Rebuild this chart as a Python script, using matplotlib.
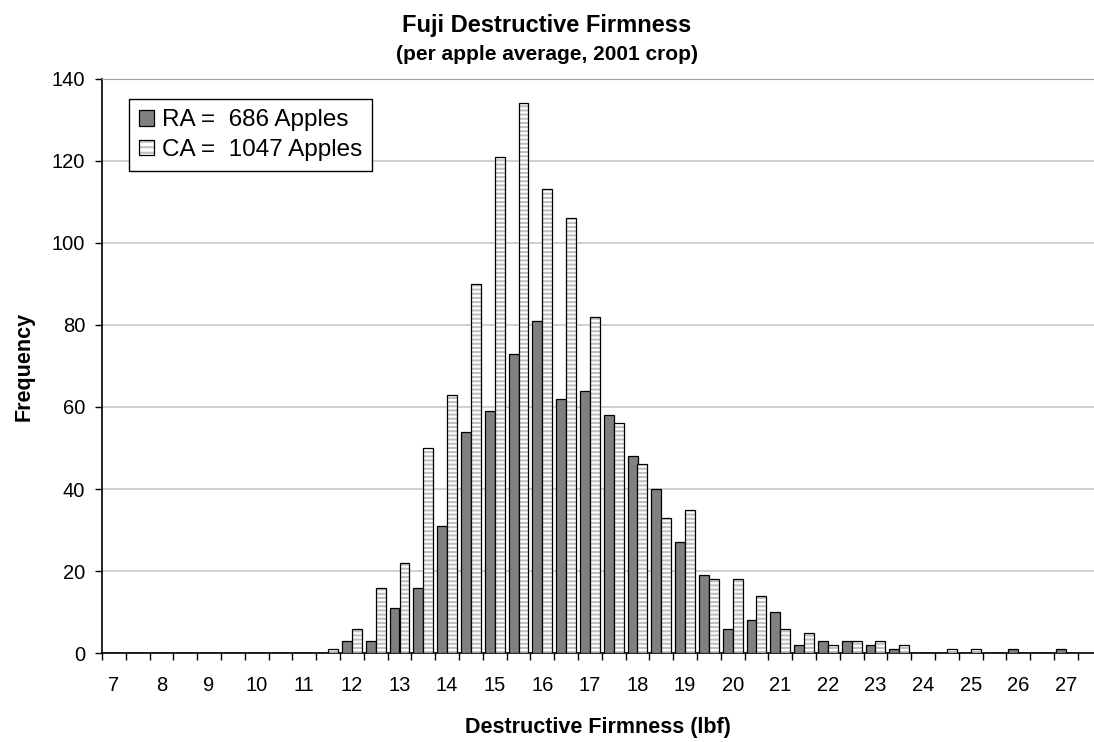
import matplotlib
matplotlib.use("Agg")
import matplotlib.pyplot as plt
import numpy as np
from matplotlib.patches import Patch
from matplotlib.ticker import FixedLocator

plt.rcParams['font.family'] = ['Liberation Sans', 'DejaVu Sans']
plt.rcParams['hatch.linewidth'] = 1.5

# firmness bins (lbf), one category per half pound
bins = [7, 7.5, 8, 8.5, 9, 9.5, 10, 10.5, 11, 11.5,
        12, 12.5, 13, 13.5, 14, 14.5, 15, 15.5, 16, 16.5,
        17, 17.5, 18, 18.5, 19, 19.5, 20, 20.5, 21, 21.5,
        22, 22.5, 23, 23.5, 24, 24.5, 25, 25.5, 26, 26.5, 27]

ra_counts = [0, 0, 0, 0, 0, 0, 0, 0, 0, 0,
             3, 3, 11, 16, 31, 54, 59, 73, 81, 62,
             64, 58, 48, 40, 27, 19, 6, 8, 10, 2,
             3, 3, 2, 1, 0, 0, 0, 0, 1, 0, 1]

ca_counts = [0, 0, 0, 0, 0, 0, 0, 0, 0, 1,
             6, 16, 22, 50, 63, 90, 121, 134, 113, 106,
             82, 56, 46, 33, 35, 18, 18, 14, 6, 5,
             2, 3, 3, 2, 0, 1, 1, 0, 0, 0, 0]

ra_label = 'RA =  686 Apples'
ca_label = 'CA =  1047 Apples'

W, H = 1094, 742
fig = plt.figure(figsize=(W / 100, H / 100), dpi=100)
ax = fig.add_axes([102 / W, 1 - 653.3 / H, 992 / W, 574.7 / H])

x = np.arange(len(bins))
bw = 0.42

# RA bars, solid gray
ax.bar(x - bw / 2, ra_counts, width=bw, color='#808080', edgecolor='black',
       linewidth=0.9, zorder=3)
# CA bars, gray/white horizontal stripes then black outline
ax.bar(x + bw / 2, ca_counts, width=bw, color='white', edgecolor='#c0c0c0',
       hatch='----', linewidth=0, zorder=3)
ax.bar(x + bw / 2, ca_counts, width=bw, fill=False, edgecolor='black',
       linewidth=0.9, zorder=4)

ax.set_ylim(0, 140)
ax.set_xlim(-0.5, -0.5 + 992 / 23.8)
ax.set_yticks(np.arange(0, 141, 20))
ax.yaxis.grid(True, color='#cccccc', linewidth=1.3, zorder=0)
ax.set_axisbelow(True)

ax.set_xticks(x[::2])
ax.set_xticklabels([f'{b:g}' for b in bins[::2]])
ax.xaxis.set_minor_locator(FixedLocator(np.arange(-0.5, len(bins) + 0.5, 1)))
ax.tick_params(axis='x', which='major', length=0, pad=16, labelsize=14.5)
ax.tick_params(axis='x', which='minor', length=5, width=1, direction='out')
ax.tick_params(axis='y', length=5, width=1, pad=7, labelsize=14.5)

ax.spines['right'].set_visible(False)
ax.spines['top'].set_color('#a0a0a0')
ax.spines['left'].set_linewidth(1.2)
ax.spines['bottom'].set_linewidth(1.2)

h_ra = Patch(facecolor='#808080', edgecolor='black', linewidth=0.9)
h_ca = (Patch(facecolor='white', edgecolor='#c0c0c0', hatch='---', linewidth=0),
        Patch(fill=False, edgecolor='black', linewidth=0.9))
leg = ax.legend([h_ra, h_ca], [ra_label, ca_label], loc='upper left',
                bbox_to_anchor=(27 / 992, (653.3 - 99) / 574.7),
                borderaxespad=0, fontsize=17.5, frameon=True, fancybox=False,
                edgecolor='black', framealpha=1, handlelength=0.62,
                handleheight=0.62, handletextpad=0.3, labelspacing=0.32,
                borderpad=0.42)
leg.get_frame().set_linewidth(1.0)

fig.text(0.5, 1 - 32 / H, 'Fuji Destructive Firmness', ha='center',
         va='baseline', fontsize=17, fontweight='bold')
fig.text(0.5, 1 - 60 / H, '(per apple average, 2001 crop)', ha='center',
         va='baseline', fontsize=15, fontweight='bold')
fig.text(598 / W, 1 - 733 / H, 'Destructive Firmness (lbf)', ha='center',
         va='baseline', fontsize=15.5, fontweight='bold')
fig.text(24 / W, 1 - 366 / H, 'Frequency', ha='center', va='center',
         rotation=90, fontsize=15.5, fontweight='bold')

fig.savefig('out.png', dpi=100)
